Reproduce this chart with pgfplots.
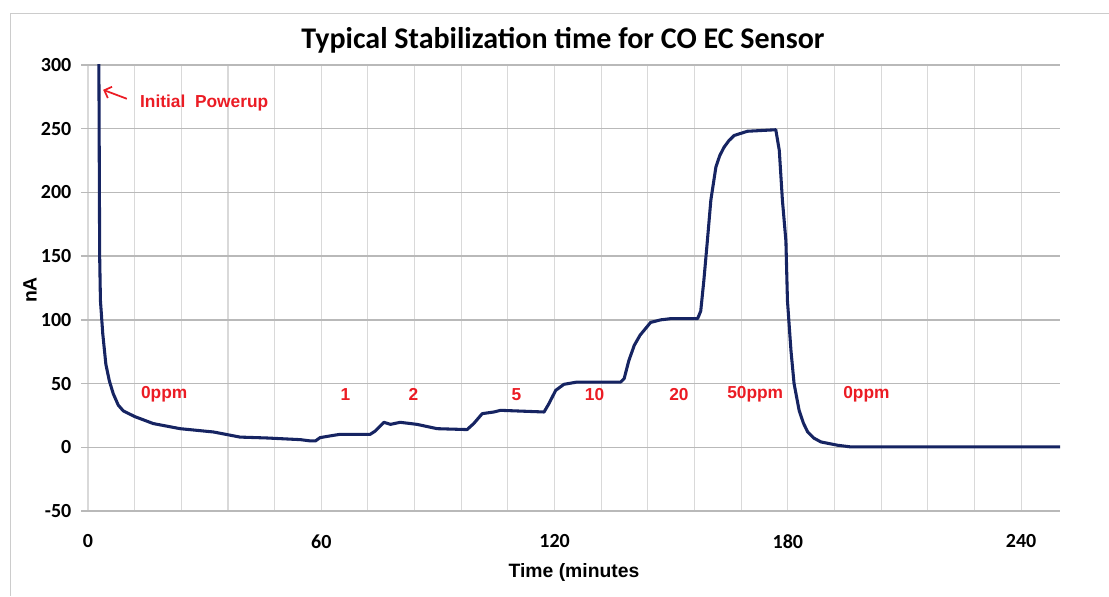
\documentclass[border=0pt]{standalone}
\usepackage{pgfplots}
\pgfplotsset{compat=1.18}
\usepackage{fontspec}
\setmainfont{Carlito}
\newfontfamily\arialf{Liberation Sans}
\usetikzlibrary{arrows.meta}
\definecolor{navy}{RGB}{22,36,98}
\definecolor{annot}{RGB}{235,28,36}
\begin{document}
\begin{tikzpicture}
\path[use as bounding box] (0pt,0pt) rectangle (831.75pt,447pt);
\draw[gray!40, line width=0.75pt] (7.5pt,0pt) -- (7.5pt,436.5pt) -- (831.75pt,436.5pt);
\begin{axis}[
  at={(66pt,63.75pt)}, anchor=south west,
  scale only axis, width=729pt, height=334.5pt,
  xmin=0, xmax=250, ymin=-50, ymax=300,
  xtick={0,60,120,180,240},
  minor xtick={12,24,36,48,72,84,96,108,132,144,156,168,192,204,216,228},
  ytick={-50,0,50,100,150,200,250,300},
  grid=both,
  major x grid style={gray!30, line width=0.8pt},
  minor x grid style={gray!30, line width=0.8pt},
  major y grid style={gray!55, line width=1.1pt},
  axis x line*=bottom, axis y line*=left,
  x axis line style={gray!55, line width=1.1pt, -},
  y axis line style={draw=none, -},
  xtick style={draw=none},
  minor tick length=0pt,
  ytick style={gray!55, line width=1.1pt},
  tick align=outside, major tick length=5pt,
  /pgf/number format/assume math mode=true,
  ticklabel style={font=\bfseries\fontsize{15}{16}\selectfont},
  yticklabel style={xshift=-4pt},
  xticklabel style={yshift=-9pt},
  clip=true,
]
\addplot[navy, line width=2.3pt, line join=round] coordinates {
(2.7,400) (2.8,300) (3.0,150) (3.2,115) (3.8,89) (4.6,65) (5.5,52) (6.5,42)
(7.8,33) (9.1,28.5) (12.1,24) (16.8,18.6) (23.7,14.6) (32.3,12) (39.1,8)
(46,7.3) (54.6,6) (57.2,5) (58.5,5) (59.7,7.6) (63.2,9.4) (64.9,10.2)
(72.6,10.2) (73.9,12.8) (76.1,19.6) (77.8,18) (80.3,19.6) (84.6,18)
(89.8,14.6) (97.5,13.9) (99.2,18.6) (101.4,26.4) (104.4,27.7) (106.1,29)
(117.3,27.7) (118.5,34) (120.3,44.7) (122.4,49.4) (125.8,51.2) (137,51.2)
(137.9,53.9) (139.1,68) (140.5,80) (142,88) (144.7,98) (147.3,100) (150,101)
(156.8,101) (157.6,107) (158.4,131) (159.3,162) (160.2,194) (161.5,220)
(162.5,229) (163.6,235.5) (164.8,240.5) (166.2,244.7) (169.6,248) (176.9,249.2) (177.8,233)
(178.6,194) (179.5,162) (179.9,115) (180.8,76) (181.6,50) (182.9,29)
(184,19) (185.1,12) (186.7,7.2) (188.5,4.2) (192.8,1.6) (196.2,0.3) (250,0.3)
};
\draw[annot, line width=1.3pt, -{Straight Barb[length=4.5pt,width=9pt]}] (axis cs:10,273.5) -- (axis cs:3.9,280.5);
\begin{scope}[every node/.style={text=annot, font=\arialf\bfseries\fontsize{13}{14}\selectfont}]
\node[anchor=west] at (axis cs:12.2,270) {Initial\ \ Powerup};
\node at (axis cs:19.6,41.6) {0ppm};
\node at (axis cs:66.2,41.6) {1};
\node at (axis cs:83.7,41.6) {2};
\node at (axis cs:110.2,41.6) {5};
\node at (axis cs:130.3,41.6) {10};
\node at (axis cs:152,41.6) {20};
\node at (axis cs:171.6,41.6) {50ppm};
\node at (axis cs:200.2,41.6) {0ppm};
\end{scope}
\end{axis}
\node[font=\bfseries\fontsize{22.5}{26}\selectfont] at (422.25pt,417pt) {Typical Stabilization time for CO EC Sensor};
\node[font=\arialf\bfseries\fontsize{14.5}{17}\selectfont] at (430.5pt,18pt) {Time (minutes};
\node[font=\arialf\bfseries\fontsize{14.5}{17}\selectfont, rotate=90] at (22.5pt,229.5pt) {nA};
\end{tikzpicture}
\end{document}
